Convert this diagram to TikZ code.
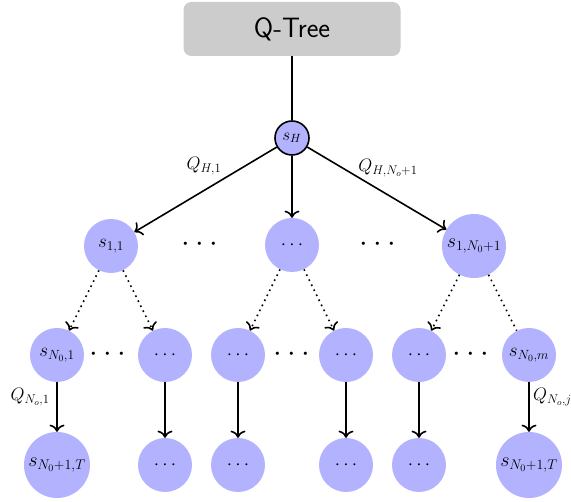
\RequirePackage{fix-cm}
\documentclass[tikz,border=0pt]{standalone}
\usetikzlibrary{arrows.meta}
\begin{document}
\begin{tikzpicture}[x=1pt,y=-1pt,
  state/.style={circle,fill=blue!30,inner sep=0pt,font=\fontsize{19}{22}\selectfont},
  small/.style={state,minimum size=54pt},
  big/.style={state,minimum size=66pt,font=\fontsize{20}{23}\selectfont},
  root/.style={state,draw=black,line width=1.6pt,minimum size=34pt,font=\fontsize{17}{20}\selectfont},
  titlebox/.style={rectangle,rounded corners=8pt,fill=black!20,minimum width=217pt,minimum height=54pt,font=\sffamily\fontsize{28}{32}\selectfont},
  sep/.style={font=\fontsize{31}{34}\selectfont},
  lbl/.style={font=\fontsize{18}{22}\selectfont,inner sep=0pt},
  edge/.style={line width=1.6pt,-{To[scale=1.4]}},
  dotedge/.style={line width=1.6pt,dash pattern=on 1.6pt off 4pt,-{To[scale=1.4]}},
  dotline/.style={line width=1.6pt,dash pattern=on 1.6pt off 4pt},
]
\useasboundingbox (0,0) rectangle (571,502);

% title and root
\node[titlebox] (title) at (292,29) {Q-Tree};
\node[root] (sH) at (292,138) {$s_H$};

% first level
\node[small] (a1) at (111,246) {$s_{1,1}$};
\node[small] (a2) at (292,245) {$\cdots$};
\node[state,minimum size=64pt,font=\fontsize{20}{23}\selectfont] (a3) at (474,246) {$s_{1,N_0+1}$};
\node[sep] (d1) at (200,245) {$\cdots$};
\node[sep] (d2) at (378,245) {$\cdots$};

% second level
\node[small] (b1) at (57,355) {$s_{N_0,1}$};
\node[small] (b2) at (165,355) {$\cdots$};
\node[small] (b3) at (238,355) {$\cdots$};
\node[small] (b4) at (346,355) {$\cdots$};
\node[small] (b5) at (419,355) {$\cdots$};
\node[small] (b6) at (529,355) {$s_{N_0,m}$};
\node[sep] (d3) at (108,355) {$\cdots$};
\node[sep] (d4) at (292,355) {$\cdots$};
\node[sep] (d5) at (471,355) {$\cdots$};

% leaves
\node[big] (c1) at (57,465) {$s_{N_0+1,T}$};
\node[small] (c2) at (165,465) {$\cdots$};
\node[small] (c3) at (238,465) {$\cdots$};
\node[small] (c4) at (346,465) {$\cdots$};
\node[small] (c5) at (419,465) {$\cdots$};
\node[big] (c6) at (529,465) {$s_{N_0+1,T}$};

% connectors
\draw[line width=1.6pt] (title) -- (sH);
\draw[edge] (sH) -- (a1);
\draw[edge] (sH) -- (a2);
\draw[edge] (sH) -- (a3);

\draw[dotedge] (a1) -- (b1);
\draw[dotedge] (a1) -- (b2);
\draw[dotedge] (a2) -- (b3);
\draw[dotedge] (a2) -- (b4);
\draw[dotedge] (a3) -- (b5);
\draw[dotline] (a3) -- (b6);

\draw[edge] (b1) -- (c1);
\draw[edge] (b2) -- (c2);
\draw[edge] (b3) -- (c3);
\draw[edge] (b4) -- (c4);
\draw[edge] (b5) -- (c5);
\draw[edge] (b6) -- (c6);

% edge labels
\node[lbl] (l1) at (204,166) {$Q_{H,1}$};
\node[lbl] (l2) at (388,168) {$Q_{H,N_o+1}$};
\node[lbl] (l3) at (30,397) {$Q_{N_o,1}$};
\node[lbl,anchor=west] (l4) at (533,397) {$Q_{N_o,j}$};
\end{tikzpicture}
\end{document}
